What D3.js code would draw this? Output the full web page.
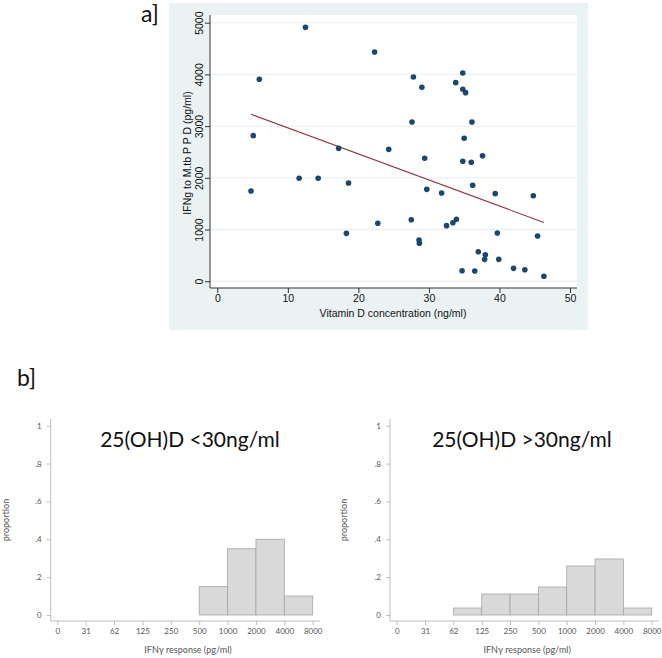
<!DOCTYPE html>
<html><head><meta charset="utf-8">
<script src="https://cdn.jsdelivr.net/npm/d3@7"></script>
<style>body{margin:0;background:#fff}svg{display:block}</style>
</head><body><svg id="c" width="662" height="658"></svg>
<script>
// ---- data: panel a (scatter) ----
const vitD = [12.5,5.96,5.1,22.3,27.8,29.0,27.6,17.2,24.3,29.4,34.8,33.8,34.8,35.2,36.1,35.0,34.8,36.0,37.6,
  4.78,11.6,14.3,18.6,18.3,22.75,27.5,29.7,28.6,28.65,31.8,32.5,33.4,33.9,36.2,34.7,36.5,37.0,38.0,37.9,39.4,39.7,39.9,42.0,43.6,44.8,45.4,46.3];
const ifng = [4910,3905,2815,4433,3950,3750,3080,2570,2550,2377,4027,3840,3712,3647,3080,2764,2319,2300,2427,
  1745,1990,1990,1900,926,1120,1190,1777,797,733,1706,1074,1132,1197,1855,203,197,571,513,423,1693,932,423,249,222,1654,874,95];
const scatterXTicks = [0,10,20,30,40,50];
const scatterYTicks = [0,1000,2000,3000,4000,5000];
// ---- data: panel b (histograms) ----
const binLabels = ["0","31","62","125","250","500","1000","2000","4000","8000"];
const lowVitD = [0,0,0,0,0,0.15,0.35,0.40,0.10];
const highVitD = [0,0,0.037,0.111,0.111,0.148,0.259,0.296,0.037];
const propTicks = [0,0.2,0.4,0.6,0.8,1];
const propLabels = ["0",".2",".4",".6",".8","1"];
const panelTitles = ["25(OH)D <30ng/ml","25(OH)D >30ng/ml"];

const svg = d3.select("#c");

// ---------- panel a ----------
svg.append("rect").attr("x",169).attr("y",3).attr("width",419).attr("height",327).attr("fill","#eaf2f3");
svg.append("rect").attr("x",210).attr("y",15).attr("width",367).attr("height",273).attr("fill","#fff");
svg.append("text").attr("x",141).attr("y",22).attr("font-family","Lato, 'Open Sans', sans-serif").attr("font-size",23).attr("fill","#111").text("a]");

const x = d3.scaleLinear().domain([0,50]).range([217.3,570]);
const y = d3.scaleLinear().domain([0,5000]).range([281.2,22.7]);
const sf = "'Liberation Sans', Arial, sans-serif";

svg.append("g").selectAll("line").data(scatterYTicks).join("line")
  .attr("x1",210).attr("x2",577).attr("y1",d=>y(d)).attr("y2",d=>y(d))
  .attr("stroke","#eaf2f3").attr("stroke-width",1.3);

const yAx = svg.append("g").attr("transform","translate(210,0)")
  .call(d3.axisLeft(y).tickValues(scatterYTicks).tickSize(5).tickSizeOuter(0).tickFormat(d3.format("d")));
yAx.select(".domain").attr("d","M0,15V288").attr("stroke","#333");
yAx.selectAll(".tick line").attr("stroke","#333");
yAx.selectAll(".tick text").attr("font-family",sf).attr("font-size",10.5).attr("fill","#111")
  .attr("x",0).attr("dy",0).attr("text-anchor","middle")
  .attr("transform","translate(-7,0) rotate(-90)");

const xAx = svg.append("g").attr("transform","translate(0,288)")
  .call(d3.axisBottom(x).tickValues(scatterXTicks).tickSize(5).tickSizeOuter(0));
xAx.select(".domain").attr("d","M210,0H577").attr("stroke","#333");
xAx.selectAll(".tick line").attr("stroke","#333");
xAx.selectAll(".tick text").attr("font-family",sf).attr("font-size",10.5).attr("fill","#111").attr("y",7);

svg.append("text").attr("x",393).attr("y",317).attr("text-anchor","middle").attr("font-family",sf)
  .attr("font-size",10.5).attr("fill","#111").text("Vitamin D concentration (ng/ml)");
svg.append("text").attr("transform","translate(190.5,153) rotate(-90)").attr("text-anchor","middle").attr("font-family",sf)
  .attr("font-size",10.5).attr("fill","#111").text("IFNg to M.tb P P D (pg/ml)");

// regression fit computed from data
const pts = vitD.map((v,i)=>[v,ifng[i]]);
const mx = d3.mean(vitD), my = d3.mean(ifng);
const slope = d3.sum(pts,p=>(p[0]-mx)*(p[1]-my))/d3.sum(pts,p=>(p[0]-mx)**2);
const icpt = my - slope*mx;
const [xmin,xmax] = d3.extent(vitD);
svg.append("line").attr("x1",x(xmin)).attr("y1",y(icpt+slope*xmin)).attr("x2",x(xmax)).attr("y2",y(icpt+slope*xmax))
  .attr("stroke","#90353b").attr("stroke-width",1.1);

svg.append("g").selectAll("circle").data(pts).join("circle")
  .attr("cx",d=>x(d[0])).attr("cy",d=>y(d[1])).attr("r",2.8).attr("fill","#1a476f");

// ---------- panel b ----------
svg.append("text").attr("x",17).attr("y",386).attr("font-family","Lato, 'Open Sans', sans-serif").attr("font-size",23).attr("fill","#111").text("b]");

const hf = "Lato, 'Open Sans', sans-serif";
const yp = d3.scaleLinear().domain([0,1]).range([615,425.7]);
const panels = [
  {data:lowVitD, axisX:50.7, x0:57.3, x1:312.7, right:320, title:panelTitles[0], tx:190, ylabX:9},
  {data:highVitD, axisX:390, x0:396.7, x1:651.7, right:659, title:panelTitles[1], tx:522, ylabX:347}
];
panels.forEach(p=>{
  const xs = d3.scaleLinear().domain([0,9]).range([p.x0,p.x1]);
  const g = svg.append("g");
  g.selectAll("rect").data(p.data.map((v,i)=>({v,i})).filter(d=>d.v>0)).join("rect")
    .attr("x",d=>xs(d.i)).attr("width",d=>xs(d.i+1)-xs(d.i))
    .attr("y",d=>yp(d.v)).attr("height",d=>yp(0)-yp(d.v))
    .attr("fill","#d9d9d9").attr("stroke","#a6a6a6").attr("stroke-width",0.8);
  const ya = g.append("g").attr("transform",`translate(${p.axisX},0)`)
    .call(d3.axisLeft(yp).tickValues(propTicks).tickSize(4).tickSizeOuter(0).tickFormat((d,i)=>propLabels[i]));
  ya.select(".domain").attr("d","M0,419V621").attr("stroke","#bfbfbf");
  ya.selectAll(".tick line").attr("stroke","#bfbfbf");
  ya.selectAll(".tick text").attr("font-family",hf).attr("font-size",8).attr("fill","#555").attr("x",-9);
  const xa = g.append("g").attr("transform","translate(0,621)")
    .call(d3.axisBottom(xs).tickValues(d3.range(10)).tickSize(4).tickSizeOuter(0).tickFormat(i=>binLabels[i]));
  xa.select(".domain").attr("d",`M${p.axisX},0H${p.right}`).attr("stroke","#bfbfbf");
  xa.selectAll(".tick line").attr("stroke","#bfbfbf");
  xa.selectAll(".tick text").attr("font-family",hf).attr("font-size",8).attr("fill","#555").attr("y",7);
  g.append("text").attr("x",(p.x0+p.x1)/2+3).attr("y",653).attr("text-anchor","middle").attr("font-family",hf)
    .attr("font-size",9).attr("fill","#555").text("IFNγ response (pg/ml)");
  g.append("text").attr("transform",`translate(${p.ylabX},520) rotate(-90)`).attr("text-anchor","middle").attr("font-family",hf)
    .attr("font-size",9).attr("fill","#555").text("proportion");
  g.append("text").attr("x",p.tx).attr("y",447).attr("text-anchor","middle").attr("font-family",hf)
    .attr("font-size",21).attr("fill","#111").text(p.title);
});
</script></body></html>
